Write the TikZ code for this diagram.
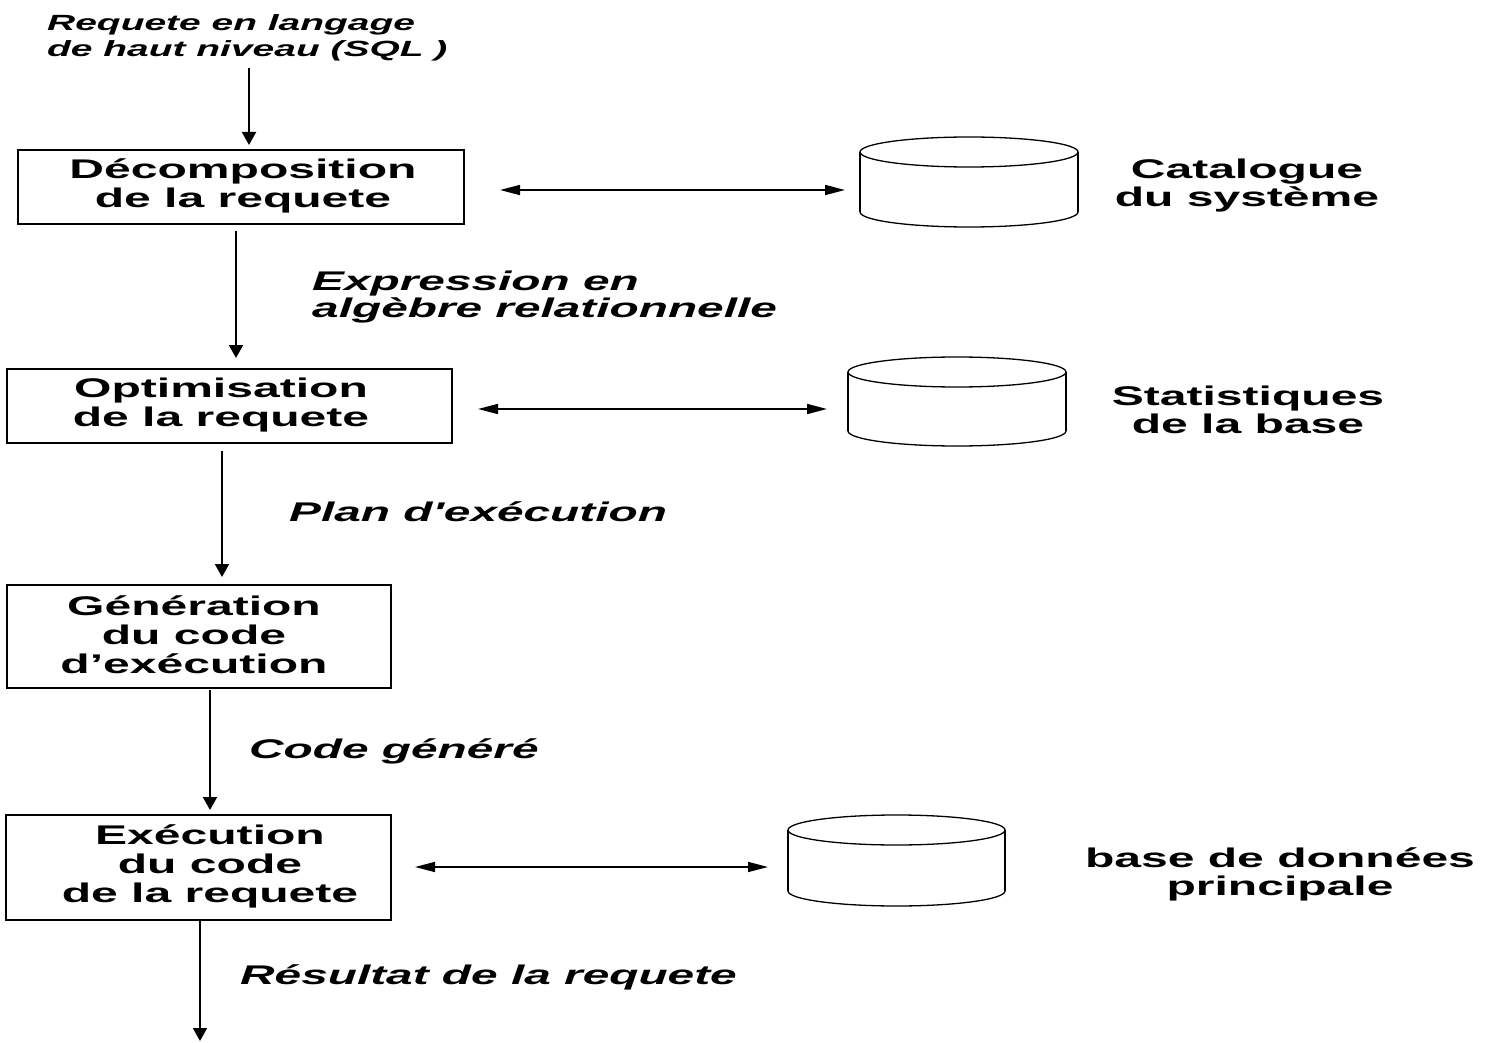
\documentclass[tikz,border=0pt]{standalone}
\usepackage{fontspec}
\setmainfont{Liberation Sans}[FakeStretch=1.78]
\newfontfamily\labfont{Liberation Sans}[FakeStretch=1.77]
\usetikzlibrary{arrows.meta,calc}
\newcommand\drawcyl[2]{%
  \draw[cylarc] ([yshift=-15pt]#1.north) ellipse [x radius=#2pt, y radius=15pt];
  \draw[cylarc] ([yshift=15pt]#1.south west) arc[start angle=180,end angle=360,x radius=#2pt,y radius=15pt];
  \draw[cylside] ([yshift=-15pt]#1.north west) -- ([yshift=15pt]#1.south west);
  \draw[cylside] ([yshift=-15pt]#1.north east) -- ([yshift=15pt]#1.south east);
}
\begin{document}
\begin{tikzpicture}[x=1pt,y=-1pt,
  box/.style={draw, line width=1.8pt, inner sep=0pt, outer sep=0pt},
  boxtext/.style={inner sep=0pt, align=center,
    font=\fontsize{27}{29}\selectfont\bfseries},
  lab/.style={anchor=base west, inner sep=0pt, align=left,
    font=\labfont\fontsize{27}{27}\selectfont\bfseries\itshape},
  toplab/.style={anchor=base west, inner sep=0pt, align=left,
    font=\labfont\fontsize{22}{26}\selectfont\bfseries\itshape},
  side/.style={inner sep=0pt, align=center, font=\fontsize{27}{28}\selectfont\bfseries},
  cylnode/.style={inner sep=0pt, outer sep=0pt},
  cylarc/.style={line width=1.3pt},
  cylside/.style={line width=2.2pt},
  varr/.style={line width=2pt, -{Triangle[length=13pt,width=14pt]}},
  harr/.style={line width=1.6pt, {Triangle[length=20pt,width=10pt]}-{Triangle[length=20pt,width=10pt]}}
]
\useasboundingbox (0,0) rectangle (1492,1043);

% boxes
\node[box, minimum width=446pt, minimum height=74pt] (b1) at (241,187) {};
\node[box, minimum width=445pt, minimum height=74pt] (b2) at (229.5,406) {};
\node[box, minimum width=384pt, minimum height=103pt] (b3) at (199,636.5) {};
\node[box, minimum width=385pt, minimum height=105pt] (b4) at (198.5,867.5) {};
\node[boxtext] (b1t) at (243,186) {Décomposition\\de la requete};
\node[boxtext] (b2t) at (221,405) {Optimisation\\de la requete};
\node[boxtext] (b3t) at (194,635) {Génération\\du code\\d'exécution};
\node[boxtext] (b4t) at (210,866) {Exécution\\du code\\de la requete};

% cylinders
\node[cylnode, minimum width=218pt, minimum height=90pt] (c1) at (969,182) {};
\node[cylnode, minimum width=218pt, minimum height=89pt] (c2) at (957,401.5) {};
\node[cylnode, minimum width=217pt, minimum height=91pt] (c3) at (896.5,860.5) {};
\drawcyl{c1}{109}
\drawcyl{c2}{109}
\drawcyl{c3}{108.5}

% side labels
\node[side] (t1) at (1247,186) {Catalogue\\du système};
\node[side] (t2) at (1248,410) {Statistiques\\de la base};
\node[side] (t3) at (1280,874) {base de données\\principale};

% flow labels (base anchor = last line)
\node[toplab] (l0) at (47,57) {Requete en langage\\de haut niveau (SQL )};
\node[lab] (l1) at (312,317) {Expression en\\algèbre relationnelle};
\node[lab] (l2) at (289,521) {Plan d'exécution};
\node[lab] (l3) at (249,758) {Code généré};
\node[lab] (l4) at (240,984) {Résultat de la requete};

% coordinates for free ends
\coordinate (in) at (249,68);
\coordinate (out) at (200,1041);

% vertical arrows
\draw[varr, shorten >=5pt] (in) -- (249,0 |- b1.north);
\draw[varr, shorten <=7pt, shorten >=11pt] (236,0 |- b1.south) -- (236,0 |- b2.north);
\draw[varr, shorten <=8pt, shorten >=8pt] (222,0 |- b2.south) -- (222,0 |- b3.north);
\draw[varr, shorten <=2pt, shorten >=5pt] (210,0 |- b3.south) -- (210,0 |- b4.north);
\draw[varr] (200,0 |- b4.south) -- (out);

% horizontal double arrows
\draw[harr, shorten <=36pt, shorten >=15pt] (b1.east |- 0,190) -- (c1.west |- 0,190);
\draw[harr, shorten <=26pt, shorten >=21pt] (b2.east |- 0,409) -- (c2.west |- 0,409);
\draw[harr, shorten <=24pt, shorten >=20pt] (b4.east |- 0,867) -- (c3.west |- 0,867);
\end{tikzpicture}
\end{document}
